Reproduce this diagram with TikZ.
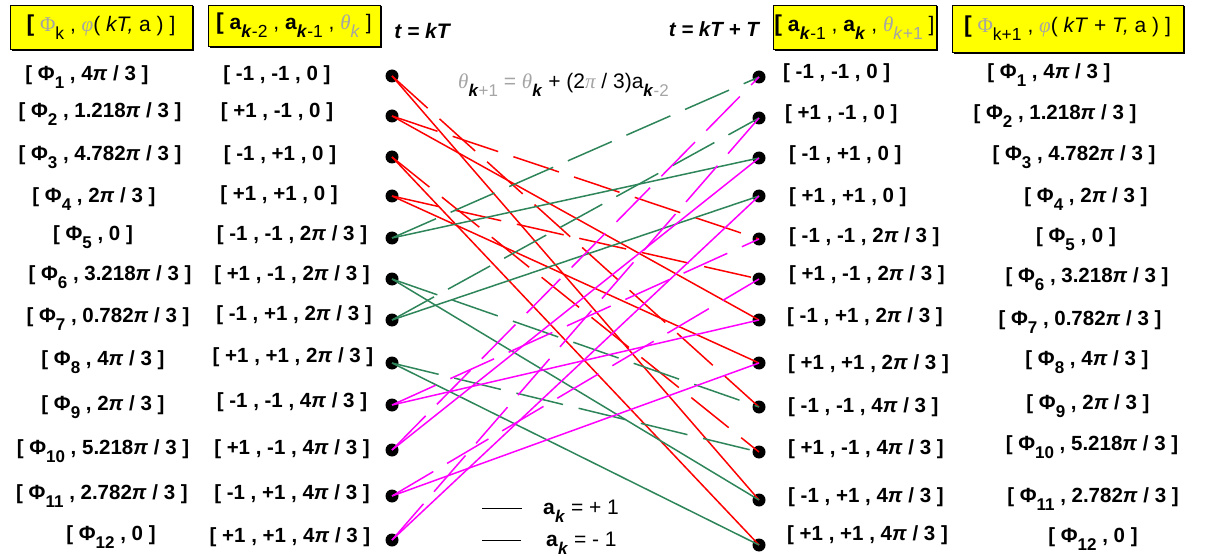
\documentclass[tikz,border=0pt]{standalone}
\usepackage{fontspec}
\setmainfont{Liberation Sans}
\newfontfamily\lser{Liberation Serif}
\definecolor{tgreen}{RGB}{46,133,90}
\definecolor{tmag}{RGB}{255,0,255}
\definecolor{tred}{RGB}{255,0,0}
\definecolor{hyel}{RGB}{255,255,0}
\definecolor{faint}{RGB}{165,165,165}
\newcommand{\lsub}[1]{\raisebox{-8pt}{\fontsize{17}{17}\selectfont #1}}
\newcommand{\hsub}[1]{\raisebox{-8pt}{\fontsize{17.5}{18}\selectfont #1}}
\newcommand{\pithree}[1]{#1\textit{π} / 3}
\newcommand{\phl}[2]{[ Φ\lsub{#1} , #2 ]}
\newcommand{\fgr}[1]{{\lser\itshape\color{faint}#1}}
\newcommand{\kk}{\textbf{\textit{k}}}
\newcommand{\hbr}{{\bfseries\fontsize{23}{24}\selectfont [}}
\tikzset{
  dot/.style={circle, fill=black, inner sep=0pt, minimum size=13pt},
  lab/.style={font=\bfseries\fontsize{20.5}{24}\selectfont, anchor=base, inner sep=0pt},
  labw/.style={lab, anchor=base west},
  hbox/.style={draw=black, fill=hyel, line width=0.8pt, inner sep=0pt, font=\fontsize{21}{24}\selectfont},
  solidln/.style={line width=1.5pt},
  dashln/.style={line width=1.5pt, dash pattern=on 48pt off 16pt},
  plain/.style={inner sep=0pt, font=\fontsize{21}{24}\selectfont}
}
\begin{document}
\begin{tikzpicture}[x=1pt,y=-1pt]
\useasboundingbox (0,0) rectangle (1210,556);
% header boxes
\node[hbox, minimum width=182pt, minimum height=44pt] (h1) at (101,27)
  {\hbr\ \fgr{\upshape Φ}\hsub{k} , \fgr{φ}( \textit{kT,} a ) ]};
\node[hbox, minimum width=172pt, minimum height=41pt] (h2) at (294,25.5)
  {\hbr\ \textbf{a}\hsub{\kk-2} , \textbf{a}\hsub{\kk-1} , \fgr{θ}\hsub{\color{faint}\textit{k}} ]};
\node[hbox, minimum width=163pt, minimum height=44pt] (h3) at (854.5,27)
  {\hbr\ \textbf{a}\hsub{\kk-1} , \textbf{a}\hsub{\kk} , \fgr{θ}\hsub{\color{faint}\textit{k}+1} ]};
\node[hbox, minimum width=231pt, minimum height=47pt] (h4) at (1067.5,28.5)
  {\hbr\ \fgr{\upshape Φ}\hsub{k+1} , \fgr{φ}( \textit{kT} + \textit{T,} a ) ]};
\foreach \h in {h1,h2,h3,h4}{
  \draw[line width=1.6pt] ([xshift=1pt,yshift=-1pt]\h.north east) -- ([xshift=1pt,yshift=-1pt]\h.south east) -- ([xshift=2pt,yshift=-1pt]\h.south west);
}
\node[plain, font=\bfseries\itshape\fontsize{21}{24}\selectfont, anchor=base] (t1) at (422,39) {t = kT};
\node[plain, font=\bfseries\itshape\fontsize{20.5}{24}\selectfont, anchor=base east] (t2) at (759,37) {t = kT + T};
% formula
\node[plain, anchor=base west] (form) at (458,89)
  {\fgr{θ}\lsub{\kk\color{faint}+1} {\color{faint}=} \fgr{θ}\lsub{\kk} + (2\fgr{π} / 3)a\lsub{\kk\color{faint}-2}};
% left phi column
\node[lab] (lp1) at (87,80.5) {\phl{1}{\pithree{4}}};
\node[lab] (lp2) at (100,117.5) {\phl{2}{\pithree{1.218}}};
\node[lab] (lp3) at (100,160.5) {\phl{3}{\pithree{4.782}}};
\node[lab] (lp4) at (94,202.5) {\phl{4}{\pithree{2}}};
\node[lab] (lp5) at (93,240.5) {\phl{5}{0}};
\node[lab] (lp6) at (110,280.5) {\phl{6}{\pithree{3.218}}};
\node[lab] (lp7) at (108,322.5) {\phl{7}{\pithree{0.782}}};
\node[lab] (lp8) at (103,365.5) {\phl{8}{\pithree{4}}};
\node[lab] (lp9) at (103,410.5) {\phl{9}{\pithree{2}}};
\node[lab] (lp10) at (103,454.5) {\phl{10}{\pithree{5.218}}};
\node[lab] (lp11) at (102,499.5) {\phl{11}{\pithree{2.782}}};
\node[lab] (lp12) at (111,540.5) {\phl{12}{0}};
% left state column
\node[lab] (la1) at (277,80.5) {[ -1 , -1 , 0 ]};
\node[lab] (la2) at (277,117.5) {[ +1 , -1 , 0 ]};
\node[lab] (la3) at (280,160.5) {[ -1 , +1 , 0 ]};
\node[lab] (la4) at (279,200.5) {[ +1 , +1 , 0 ]};
\node[lab] (la5) at (292,240.5) {[ -1 , -1 , \pithree{2} ]};
\node[lab] (la6) at (292,280.5) {[ +1 , -1 , \pithree{2} ]};
\node[lab] (la7) at (294,320.5) {[ -1 , +1 , \pithree{2} ]};
\node[lab] (la8) at (293,362.5) {[ +1 , +1 , \pithree{2} ]};
\node[lab] (la9) at (292,407.5) {[ -1 , -1 , \pithree{4} ]};
\node[lab] (la10) at (292,454.5) {[ +1 , -1 , \pithree{4} ]};
\node[lab] (la11) at (292,499.5) {[ -1 , +1 , \pithree{4} ]};
\node[lab] (la12) at (290,542.5) {[ +1 , +1 , \pithree{4} ]};
% right state column
\node[labw] (ra1) at (783,78.5) {[ -1 , -1 , 0 ]};
\node[labw] (ra2) at (785,119.5) {[ +1 , -1 , 0 ]};
\node[labw] (ra3) at (789,160.5) {[ -1 , +1 , 0 ]};
\node[labw] (ra4) at (789,202.5) {[ +1 , +1 , 0 ]};
\node[labw] (ra5) at (789,242.5) {[ -1 , -1 , \pithree{2} ]};
\node[labw] (ra6) at (789,280.5) {[ +1 , -1 , \pithree{2} ]};
\node[labw] (ra7) at (787,322.5) {[ -1 , +1 , \pithree{2} ]};
\node[labw] (ra8) at (788,369.5) {[ +1 , +1 , \pithree{2} ]};
\node[labw] (ra9) at (788,412.5) {[ -1 , -1 , \pithree{4} ]};
\node[labw] (ra10) at (788,454.5) {[ +1 , -1 , \pithree{4} ]};
\node[labw] (ra11) at (788,502.5) {[ -1 , +1 , \pithree{4} ]};
\node[labw] (ra12) at (787,540.5) {[ +1 , +1 , \pithree{4} ]};
% right phi column
\node[lab] (rp1) at (1049,78.5) {\phl{1}{\pithree{4}}};
\node[lab] (rp2) at (1055,119.5) {\phl{2}{\pithree{1.218}}};
\node[lab] (rp3) at (1074,160.5) {\phl{3}{\pithree{4.782}}};
\node[lab] (rp4) at (1086,202.5) {\phl{4}{\pithree{2}}};
\node[lab] (rp5) at (1076,242.5) {\phl{5}{0}};
\node[lab] (rp6) at (1087,282.5) {\phl{6}{\pithree{3.218}}};
\node[lab] (rp7) at (1080,325.5) {\phl{7}{\pithree{0.782}}};
\node[lab] (rp8) at (1087,365.5) {\phl{8}{\pithree{4}}};
\node[lab] (rp9) at (1088,409.5) {\phl{9}{\pithree{2}}};
\node[lab] (rp10) at (1092,450.5) {\phl{10}{\pithree{5.218}}};
\node[lab] (rp11) at (1093,502.5) {\phl{11}{\pithree{2.782}}};
\node[lab] (rp12) at (1093,542.5) {\phl{12}{0}};
% dots
\foreach \i/\y in {1/76,2/116,3/157,4/196,5/238,6/279,7/320,8/363,9/405,10/450,11/496,12/540}
  \node[dot] (L\i) at (392,\y) {};
\foreach \i/\y in {1/77,2/118,3/158,4/196,5/239,6/279,7/320,8/363,9/407,10/452,11/500,12/545}
  \node[dot] (R\i) at (759,\y) {};
% transitions: solid a_k=+1, dashed a_k=-1
\foreach \a/\d/\s in {1/9/11,2/5/7,3/10/12,4/6/8}{
  \draw[tred, dashln] (L\a.center) -- (R\d.center);
  \draw[tred, solidln] (L\a.center) -- (R\s.center);
}
\foreach \a/\d/\s in {5/1/3,6/9/11,7/2/4,8/10/12}{
  \draw[tgreen, dashln] (L\a.center) -- (R\d.center);
  \draw[tgreen, solidln] (L\a.center) -- (R\s.center);
}
\foreach \a/\d/\s in {9/5/7,10/1/3,11/6/8,12/2/4}{
  \draw[tmag, dashln] (L\a.center) -- (R\d.center);
  \draw[tmag, solidln] (L\a.center) -- (R\s.center);
}
% legend
\coordinate (g1a) at (482,508); \coordinate (g1b) at (522,508);
\coordinate (g2a) at (482,540); \coordinate (g2b) at (521,540);
\draw[line width=1pt] (g1a) -- (g1b);
\draw[line width=1pt] (g2a) -- (g2b);
\node[plain, anchor=base west] (lg1) at (543,514) {\textbf{a}\lsub{\kk} = + 1};
\node[plain, anchor=base west] (lg2) at (546,546) {\textbf{a}\lsub{\kk} = - 1};
\end{tikzpicture}
\end{document}
